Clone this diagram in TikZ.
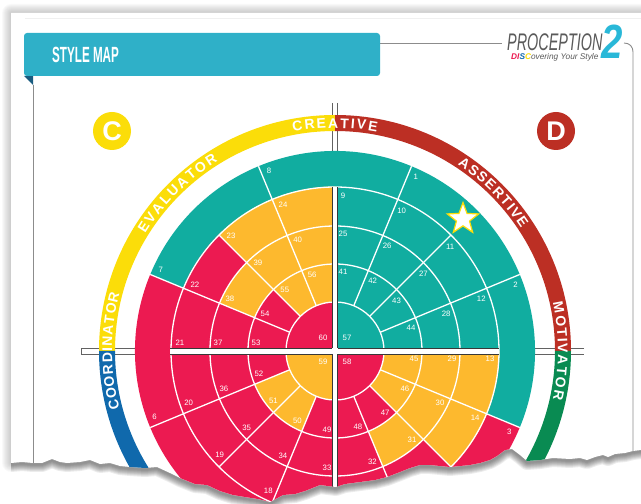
\documentclass[tikz,border=0pt]{standalone}
\usepackage{fontspec}
\setmainfont{Liberation Sans}
\usetikzlibrary{shapes.geometric,calc}
\definecolor{wteal}{HTML}{11ADA0}
\definecolor{worange}{HTML}{FDB92E}
\definecolor{wred}{HTML}{EC1A51}
\definecolor{byellow}{HTML}{FBDD09}
\definecolor{bred}{HTML}{BC2F24}
\definecolor{bgreen}{HTML}{098B52}
\definecolor{bblue}{HTML}{1069AC}
\definecolor{headblue}{HTML}{2FB0C8}
\definecolor{folddark}{HTML}{1A5C80}
\definecolor{rulegrey}{HTML}{8C8C8C}
\definecolor{logogrey}{HTML}{5A5A5A}
\definecolor{logocyan}{HTML}{29B8D8}
\newcommand\papershape{(11,491) -- (641,491) -- (641,54) -- (633,53) -- (625,51) -- (615,50) -- (608,47) -- (603,49) -- (595,47) -- (587,44) -- (580,46) -- (570,45) -- (553,46) -- (540,44) -- (527,43) -- (520,49) -- (512,55) -- (505,54) -- (497,48) -- (490,44) -- (480,41) -- (470,39) -- (460,38) -- (450,37) -- (440,38) -- (430,39) -- (420,39) -- (410,36) -- (400,32) -- (387,27) -- (375,24) -- (360,22) -- (345,20) -- (336,17) -- (320,19) -- (305,13) -- (295,10) -- (283,9) -- (270,2) -- (258,5) -- (245,7) -- (233,9) -- (220,13) -- (207,19) -- (195,20) -- (180,26) -- (170,31) -- (157,37) -- (145,36) -- (130,37) -- (120,38) -- (110,41) -- (100,40) -- (90,44) -- (80,42) -- (67,41) -- (60,42) -- (52,45) -- (42,41) -- (33,41) -- (22,42) -- (11,41) -- cycle}
\newdimen\bwtotal
\newdimen\bwpos
\newdimen\bwlet
\newbox\bwbox
\newcommand\bandfont{\bfseries\fontsize{14}{15}\selectfont}
\newcommand\bwmeasure[1]{\pgfinterruptpicture\global\setbox\bwbox=\hbox{\bandfont #1}\endpgfinterruptpicture}
\newcommand\bandword[3]{%
  \global\bwtotal=-#2pt
  \foreach \lt in {#3}{\bwmeasure{\lt}\global\advance\bwtotal by \wd\bwbox \global\advance\bwtotal by #2pt}%
  \global\bwpos=0pt
  \foreach \lt in {#3}{%
    \bwmeasure{\lt}%
    \bwlet=\wd\bwbox
    \pgfmathsetmacro\bwang{#1+(\the\bwtotal/2-\the\bwpos-\the\bwlet/2)/223*57.29578}%
    \global\advance\bwpos by \bwlet \global\advance\bwpos by #2pt
    \node[bandletter,rotate=\bwang-90] at (\bwang:223) {\lt};}%
}
\newcommand\ringcell[5]{% inner, outer, start, end, colour
  \fill[#5] (#3:#1) arc[start angle=#3,end angle=#4,radius=#1] -- (#4:#2) arc[start angle=#4,end angle=#3,radius=#2] -- cycle;}
\tikzset{
  numlabel/.style={text=white,font=\fontsize{7.8}{8}\selectfont,inner sep=0pt},
  bandletter/.style={text=white,font=\bandfont,inner sep=0pt,anchor=base},
  spoke/.style={draw=white,line width=1.3pt},
  barline/.style={draw=rulegrey!70!black,line width=0.8pt},
}
\begin{document}
\begin{tikzpicture}[x=1pt,y=1pt]
\useasboundingbox (0,0) rectangle (641,504);
% shadow
\foreach \w in {2,4,...,18}{\draw[black,opacity=0.022,line width=\w pt,line join=round] \papershape;}
\begin{scope}[yshift=-2pt]
\clip (11,0) rectangle (641,60);
\foreach \w in {2,4,...,14}{\draw[black,opacity=0.05,line width=\w pt,line join=round] \papershape;}
\end{scope}
\fill[white] \papershape;
\draw[gray!12,line width=0.5pt] (25,486) -- (641,486);
\begin{scope}
\clip \papershape;
% rules
\draw[rulegrey,line width=0.9pt] (33,419) -- (33,0);
\draw[rulegrey,line width=0.9pt] (380,461) -- (502,461);
\draw[rulegrey,line width=0.9pt] (624,461) .. controls (630,461) and (633,457) .. (633,452) -- (633,0);
% cross bars under the wheel
\fill[white] (81,150) rectangle (584,156);
\draw[barline] (584,156) -- (81,156) -- (81,150) -- (584,150);
\fill[white] (332,0) rectangle (337.5,401);
\draw[barline] (332,0) -- (332,401);
\draw[barline] (337.5,401) -- (337.5,0);
\begin{scope}[shift={(335,153)}]
% outer band
\ringcell{220}{236}{90}{180}{byellow}
\ringcell{220}{236}{0}{90}{bred}
\ringcell{220}{236}{-70}{0}{bgreen}
\ringcell{220}{236}{180}{250}{bblue}
\bandword{90}{1.9}{C,R,E,A,T,I,V,E}
\bandword{135}{2.1}{E,V,A,L,U,A,T,O,R}
\bandword{45}{1.4}{A,S,S,E,R,T,I,V,E}
\bandword{0}{1.6}{M,O,T,I,V,A,T,O,R}
\bandword{180}{1.1}{C,O,O,R,D,I,N,A,T,O,R}
% outer ring
\ringcell{164}{200}{-22.5}{157.5}{wteal}
\ringcell{164}{200}{157.5}{337.5}{wred}
% ring r3: 125-164
\ringcell{125}{164.5}{0}{90}{wteal}
\ringcell{125}{164.5}{0}{-45}{worange}
\ringcell{125}{164.5}{-45}{-225}{wred}
\ringcell{125}{164.5}{90}{135}{worange}
% ring r2: 87-125
\ringcell{87}{125}{0}{90}{wteal}
\ringcell{87}{125}{0}{-67.5}{worange}
\ringcell{87}{125}{-67.5}{-202.5}{wred}
\ringcell{87}{125}{90}{157.5}{worange}
% ring r1: 49-87
\ringcell{49}{87}{0}{90}{wteal}
\ringcell{49}{87}{0}{-45}{worange}
\ringcell{49}{87}{-45}{-112.5}{wred}
\ringcell{49}{87}{-112.5}{-157.5}{worange}
\ringcell{49}{87}{-157.5}{-225}{wred}
\ringcell{49}{87}{90}{135}{worange}
% centre
\ringcell{0.01}{49}{0}{90}{wteal}
\ringcell{0.01}{49}{0}{-90}{wred}
\ringcell{0.01}{49}{-90}{-180}{worange}
\ringcell{0.01}{49}{90}{180}{wred}
% circles
\foreach \r in {49,87,125,164}{\draw[spoke] (0,0) circle[radius=\r];}
% spokes
\foreach \a in {22.5,67.5,112.5,157.5,202.5,247.5,292.5,337.5}{\draw[spoke] (\a:49) -- (\a:200);}
\foreach \a in {45,135,225,315}{\draw[spoke] (\a:49) -- (\a:164);}
% bars over the inner wheel
\fill[white] (-165,-3) rectangle (164,3);
\draw[barline,draw=rulegrey!40!black] (-165,3) -- (164,3);
\draw[barline,draw=rulegrey!40!black] (-165,-3) -- (164,-3);
\fill[white] (-3,-250) rectangle (2.5,164);
\draw[barline,draw=rulegrey!40!black] (-3,-250) -- (-3,164);
\draw[barline,draw=rulegrey!40!black] (2.5,-250) -- (2.5,164);
\fill[white] (-3,-3) rectangle (2.5,3);
% labels
\foreach \n/\a in {1/67.5,2/22.5,3/-22.5,6/-157.5,7/157.5,8/112.5}{
  \node[numlabel] (n\n) at ($(\a:192)+(\a-90:8)$) {\n};}
\foreach \n/\a in {9/90,10/67.5,11/45,12/22.5,13/0,14/-22.5,18/-112.5,19/-135,20/-157.5,21/180,22/157.5,23/135,24/112.5}{
  \node[numlabel] (n\n) at ($(\a:155)+(\a-90:8)$) {\n};}
\foreach \n/\a in {25/90,26/67.5,27/45,28/22.5,29/0,30/-22.5,31/-45,32/-67.5,33/-90,34/-112.5,35/-135,36/-157.5,37/180,38/157.5,39/135,40/112.5}{
  \node[numlabel] (n\n) at ($(\a:117)+(\a-90:8)$) {\n};}
\foreach \n/\a in {41/90,42/67.5,43/45,44/22.5,45/0,46/-22.5,47/-45,48/-67.5,49/-90,50/-112.5,51/-135,52/-157.5,53/180,54/157.5,55/135,56/112.5}{
  \node[numlabel] (n\n) at ($(\a:79)+(\a-90:8)$) {\n};}
\node[numlabel] (n57) at (12,13) {57};
\node[numlabel] (n58) at (12,-11) {58};
\node[numlabel] (n59) at (-12,-11) {59};
\node[numlabel] (n60) at (-12,13) {60};
\end{scope}
\end{scope}
% header
\fill[folddark] (24,428) -- (33,428) -- (33,419) -- cycle;
\fill[headblue,rounded corners=3pt] (24,428) rectangle (380,471);
\node[anchor=west,inner sep=0pt,text=white,font=\bfseries\fontsize{22}{24}\selectfont] (title) at (52,449.5) {\scalebox{0.53}[1]{STYLE MAP}};
% C D discs
\node[circle,fill=byellow,minimum size=38pt,inner sep=0pt,text=white,font=\bfseries\fontsize{27}{28}\selectfont] (cdisc) at (112,373) {C};
\node[circle,fill=bred,minimum size=38pt,inner sep=0pt,text=white,font=\bfseries\fontsize{27}{28}\selectfont] (ddisc) at (556,373) {D};
% star
\node[star,star points=5,star point ratio=2.4,minimum size=33pt,inner sep=0pt,fill=white,draw=byellow,line width=1.2pt] (star) at (463,285) {};
% logo
\node[anchor=west,inner sep=0pt,text=logogrey,font=\itshape\fontsize{24}{26}\selectfont] (logo) at (507,462) {\scalebox{0.6}[1]{PROCEPTION}};
\node[anchor=west,inner sep=0pt,text=logocyan,font=\bfseries\itshape\fontsize{48}{50}\selectfont] (logotwo) at (601,462) {\scalebox{0.8}[1]{2}};
\node[anchor=west,inner sep=0pt,text=logogrey,font=\itshape\fontsize{8.3}{9}\selectfont] (logotag) at (511,447) {\textcolor{wred}{\bfseries D}\textcolor{wred}{\bfseries I}\textcolor{bblue}{\bfseries S}\textcolor{byellow}{\bfseries C}overing Your Style};
\end{tikzpicture}
\end{document}
